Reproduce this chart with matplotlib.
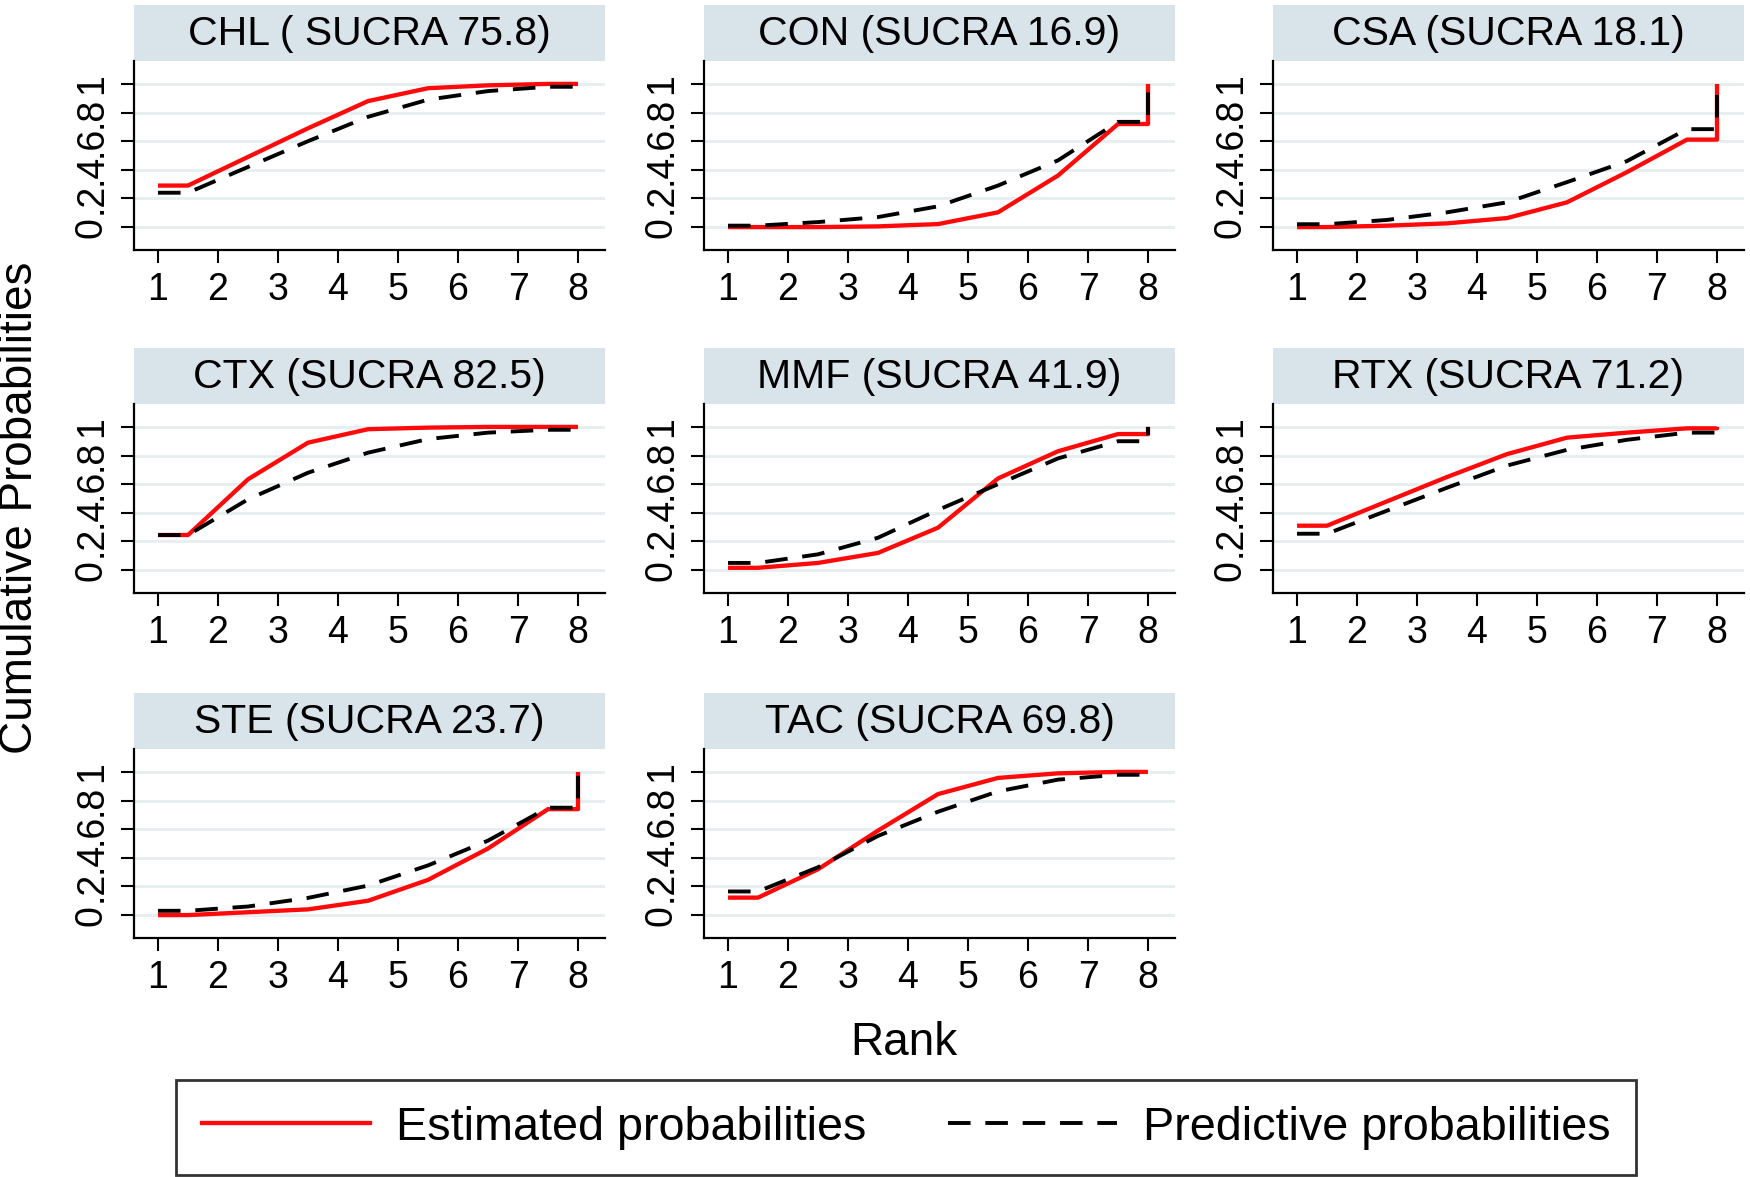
import matplotlib
matplotlib.use('Agg')
import matplotlib.pyplot as plt
from matplotlib.patches import Rectangle
from matplotlib.lines import Line2D

plt.rcParams['font.family'] = ['Liberation Sans', 'DejaVu Sans']

# ---------------- data ----------------
ranks = [1, 2, 3, 4, 5, 6, 7, 8]
panel_titles = ['CHL ( SUCRA 75.8)', 'CON (SUCRA 16.9)', 'CSA (SUCRA 18.1)',
                'CTX (SUCRA 82.5)', 'MMF (SUCRA 41.9)', 'RTX (SUCRA 71.2)',
                'STE (SUCRA 23.7)', 'TAC (SUCRA 69.8)']

est_CHL = [0.29, 0.49, 0.69, 0.88, 0.97, 0.99, 1.00, 1.00]
pred_CHL = [0.24, 0.42, 0.60, 0.77, 0.89, 0.95, 0.98, 1.00]
est_CON = [0.00, 0.00, 0.005, 0.021, 0.103, 0.36, 0.72, 1.00]
pred_CON = [0.01, 0.035, 0.07, 0.145, 0.29, 0.466, 0.735, 1.00]
est_CSA = [0.00, 0.01, 0.026, 0.063, 0.173, 0.384, 0.611, 1.00]
pred_CSA = [0.02, 0.05, 0.103, 0.173, 0.314, 0.461, 0.684, 1.00]
est_CTX = [0.245, 0.634, 0.89, 0.984, 0.995, 1.00, 1.00, 1.00]
pred_CTX = [0.245, 0.494, 0.68, 0.82, 0.915, 0.96, 0.98, 1.00]
est_MMF = [0.016, 0.05, 0.12, 0.296, 0.64, 0.83, 0.95, 1.00]
pred_MMF = [0.05, 0.11, 0.226, 0.42, 0.60, 0.78, 0.90, 1.00]
est_RTX = [0.31, 0.48, 0.65, 0.81, 0.925, 0.96, 0.99, 1.00]
pred_RTX = [0.254, 0.415, 0.575, 0.73, 0.84, 0.91, 0.96, 1.00]
est_STE = [0.00, 0.02, 0.04, 0.10, 0.246, 0.465, 0.74, 1.00]
pred_STE = [0.03, 0.06, 0.12, 0.206, 0.347, 0.52, 0.75, 1.00]
est_TAC = [0.122, 0.32, 0.59, 0.845, 0.958, 0.99, 1.00, 1.00]
pred_TAC = [0.165, 0.334, 0.553, 0.722, 0.864, 0.946, 0.98, 1.00]

estimated = [est_CHL, est_CON, est_CSA, est_CTX, est_MMF, est_RTX, est_STE, est_TAC]
predictive = [pred_CHL, pred_CON, pred_CSA, pred_CTX, pred_MMF, pred_RTX, pred_STE, pred_TAC]

ytick_vals = [0, 0.2, 0.4, 0.6, 0.8, 1]
ytick_labels = ['0', '.2', '.4', '.6', '.8', '1']
legend_labels = ['Estimated probabilities', 'Predictive probabilities']

# ---------------- layout ----------------
W, H = 1750, 1177
fig = plt.figure(figsize=(W / 100, H / 100), dpi=100)
fig.patch.set_facecolor('white')

col_left = [134, 704, 1273]
ax_w = 471
row_top = [61, 404, 749]
ax_h = 189
strip_h = 56

strip_color = '#d8e3ea'
grid_color = '#e6eef0'
red = '#ff0a0a'
dash_pat = (5.8, 3.8)


def step_xy(vals):
    xs = [ranks[0], ranks[0] + 0.5] + [r + 0.5 for r in ranks[1:7]] + [ranks[7], ranks[7]]
    ys = [vals[0], vals[0]] + list(vals[1:7]) + [vals[6], vals[7]]
    return xs, ys


for i, title in enumerate(panel_titles):
    r, c = divmod(i, 3)
    l = col_left[c]
    t = row_top[r]
    ax = fig.add_axes([l / W, 1 - (t + ax_h) / H, ax_w / W, ax_h / H])
    ax.set_xlim(0.6, 8.45)
    ax.set_ylim(-0.16, 1.16)
    for sp in ['top', 'right']:
        ax.spines[sp].set_visible(False)
    for sp in ['left', 'bottom']:
        ax.spines[sp].set_linewidth(1.6)
    ax.set_yticks(ytick_vals)
    ax.set_yticklabels(ytick_labels, rotation=90, va='center', fontsize=27)
    ax.set_xticks(ranks)
    ax.set_xticklabels([str(v) for v in ranks], fontsize=27)
    ax.tick_params(axis='both', length=9.5, width=1.5, direction='out')
    ax.tick_params(axis='x', pad=6)
    ax.tick_params(axis='y', pad=8)
    ax.grid(axis='y', color=grid_color, linewidth=2)
    ax.set_axisbelow(True)

    xe, ye = step_xy(estimated[i])
    xp, yp = step_xy(predictive[i])
    ax.plot(xe, ye, color=red, linewidth=3.1, zorder=3, solid_capstyle='butt')
    ax.plot(xp, yp, color='black', linewidth=2.8, dashes=dash_pat, zorder=4)

    ax.add_patch(Rectangle((0, 1), 1, strip_h / ax_h, transform=ax.transAxes,
                           clip_on=False, facecolor=strip_color, edgecolor='none'))
    ax.text(0.5, 1 + (strip_h / 2 - 1) / ax_h, title, transform=ax.transAxes,
            ha='center', va='center', fontsize=29.5, color='black')

fig.text(904 / W, 1 - 1043 / H, 'Rank', ha='center', va='center', fontsize=33)
fig.text(20 / W, 1 - 508 / H, 'Cumulative Probabilities', ha='center', va='center',
         rotation=90, fontsize=33)

handles = [Line2D([], [], color=red, linewidth=3.1),
           Line2D([], [], color='black', linewidth=2.8, dashes=dash_pat)]
leg = fig.legend(handles, legend_labels, loc='center',
                 bbox_to_anchor=(906 / W, 1 - 1127.5 / H), ncol=2, frameon=True,
                 fontsize=33.7, handlelength=3.6, handletextpad=0.55, columnspacing=1.75,
                 borderpad=0.55, fancybox=False, edgecolor='black')
leg.get_frame().set_linewidth(2)

fig.savefig('out.png', dpi=100, facecolor='white')
